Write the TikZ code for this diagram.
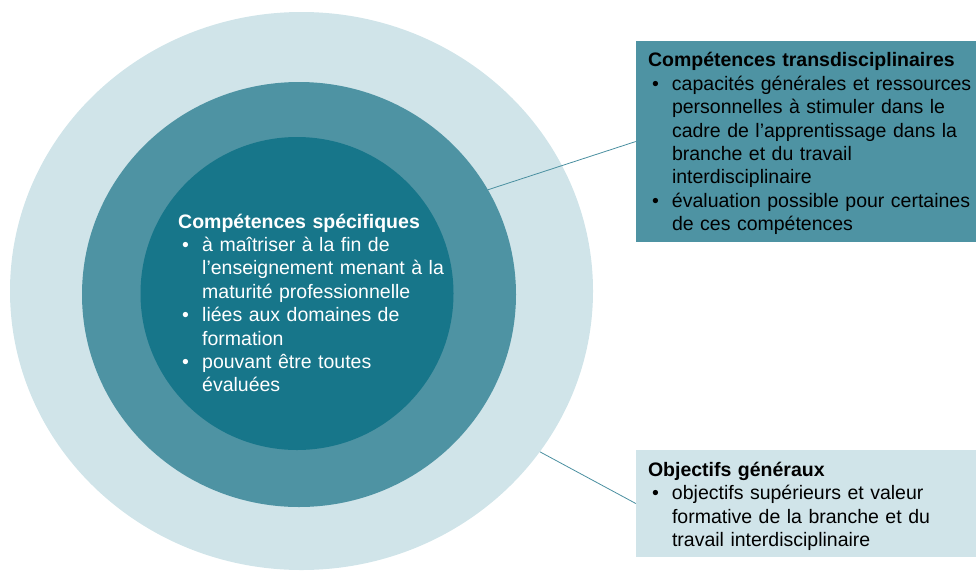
\documentclass[tikz,border=0pt]{standalone}
\usepackage{fontspec}
\setmainfont{Liberation Sans}
\usetikzlibrary{shapes.geometric}

\definecolor{ringlight}{HTML}{D0E4E9}
\definecolor{ringmid}{HTML}{4E93A3}
\definecolor{ringdark}{HTML}{17768A}
\definecolor{leadcol}{HTML}{4A8FA0}

\hyphenpenalty=10000
% bullet item with hanging indent
\newcommand{\bul}{\par\hangindent=24pt\hangafter=1\noindent\makebox[24pt][l]{\hspace{4pt}\textbullet}}

\begin{document}
\begin{tikzpicture}[x=1pt,y=-1pt,
  ring/.style={ellipse,inner sep=0pt,draw=none},
  card/.style={rectangle,inner sep=0pt,draw=none,minimum width=340pt},
  txt/.style={anchor=base west,inner sep=0pt,text width=360pt,
    font=\fontsize{19.5}{23.4}\selectfont},
  lead/.style={draw=leadcol,line width=0.8pt}]
\useasboundingbox (0,0) rectangle (976,571);

% Rings
\node[ring,fill=ringlight,minimum width=583pt,minimum height=558pt] (outer) at (301.5,291) {};
\node[ring,fill=ringmid,minimum width=434pt,minimum height=425pt] (mid) at (299,294.5) {};
\node[ring,fill=ringdark,minimum width=313pt,minimum height=313pt] (inner) at (297,293.5) {};

% Inner text
\node[txt,text=white] (innertxt) at (178,228) {\textbf{Compétences spécifiques}
\bul à maîtriser à la fin de\newline l’enseignement menant à la\newline maturité professionnelle
\bul liées aux domaines de\newline formation
\bul pouvant être toutes\newline évaluées\par};

% Boxes
\node[card,fill=ringmid,minimum height=201pt] (trans) at (806,141.5) {};
\node[card,fill=ringlight,minimum height=107pt] (gen) at (806,503.5) {};

\node[txt] (transtxt) at ([xshift=12pt,yshift=-26pt]trans.north west) {\textbf{Compétences transdisciplinaires}
\bul capacités générales et ressources\newline personnelles à stimuler dans le\newline cadre de l’apprentissage dans la\newline branche et du travail\newline interdisciplinaire
\bul évaluation possible pour certaines\newline de ces compétences\par};

\node[txt] (gentxt) at ([xshift=12pt,yshift=-26.7pt]gen.north west) {\textbf{Objectifs généraux}
\bul objectifs supérieurs et valeur\newline formative de la branche et du\newline travail interdisciplinaire\par};

% Leads
\draw[lead] (mid.29) -- (trans.west);
\draw[lead] (outer.-34) -- (gen.west);
\end{tikzpicture}
\end{document}
